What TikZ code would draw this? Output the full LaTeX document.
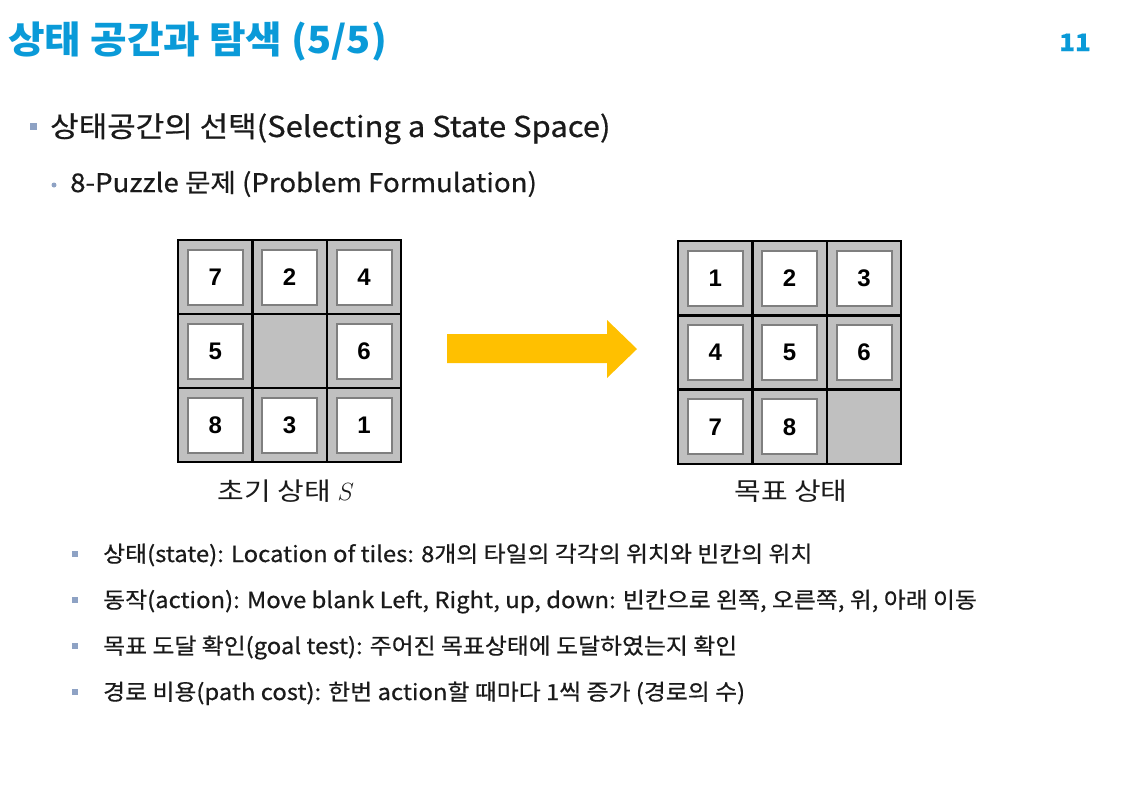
\documentclass[tikz,border=0pt]{standalone}
\usepackage{fontspec}
\setmainfont{Noto Sans CJK KR}[FakeStretch=1.08, FakeBold=0.6]
\newfontfamily\titlefont{Noto Sans CJK KR}[FakeStretch=1.06]
\newfontfamily\capfont{Noto Sans CJK KR}[FakeStretch=1.16]
\newfontfamily\arialfont{Liberation Sans}
\definecolor{titleblue}{HTML}{0A9AD8}
\definecolor{bulletgray}{HTML}{8EA2C4}
\definecolor{cellgray}{HTML}{C0C0C0}
\definecolor{tileedge}{HTML}{7F7F7F}
\definecolor{arrowyellow}{HTML}{FFC000}
\definecolor{textdark}{HTML}{1A1A1A}
\tikzset{
  cellbox/.style={draw=black, fill=cellgray, line width=2.5pt, minimum size=74.4pt, inner sep=0pt},
  tilebox/.style={draw=tileedge, fill=white, line width=2pt, minimum size=55pt, inner sep=0pt, font=\arialfont\bfseries\fontsize{24}{24}\selectfont},
  sqbullet/.style={fill=bulletgray, minimum size=7pt, inner sep=0pt},
  smbullet/.style={fill=bulletgray, minimum size=6pt, inner sep=0pt},
  dotbullet/.style={circle, fill=bulletgray, minimum size=5pt, inner sep=0pt},
  bodytext/.style={anchor=base west, inner sep=0pt, text=textdark},
  caption/.style={anchor=base, inner sep=0pt, text=textdark, font=\capfont\fontsize{25}{28}\selectfont},
}
\begin{document}
\begin{tikzpicture}[x=1pt,y=-1pt]
\useasboundingbox (0,0) rectangle (1131,788);
% title
\node[anchor=base west, inner sep=0pt, text=titleblue, font=\titlefont\bfseries\fontsize{37.5}{42}\selectfont] (title) at (8,53) {상태 공간과 탐색 (5/5)};
\node[anchor=base east, inner sep=0pt, text=titleblue, font=\bfseries\fontsize{24}{28}\selectfont] (pagenum) at (1091,51) {11};
% level 1
\node[sqbullet] (b1) at (33.5,126) {};
\node[bodytext, font=\fontsize{28.7}{32}\selectfont] (l1) at (50,137) {상태공간의 선택(Selecting a State Space)};
\node[dotbullet] (b2) at (54,185) {};
\node[bodytext, font=\fontsize{25.6}{28}\selectfont] (l2) at (70,192) {8-Puzzle 문제 (Problem Formulation)};
% initial puzzle
\foreach \v [count=\i from 0] in {7,2,4,5,0,6,8,3,1} {
  \pgfmathtruncatemacro\cc{mod(\i,3)}
  \pgfmathtruncatemacro\rr{div(\i,3)}
  \node[cellbox] (s\i) at ({178+74.4*\cc+37.2},{240+74*\rr+37}) {};
  \ifnum\v>0 \node[tilebox] (st\i) at (s\i) {\v}; \fi
}
% goal puzzle
\foreach \v [count=\i from 0] in {1,2,3,4,5,6,7,8,0} {
  \pgfmathtruncatemacro\cc{mod(\i,3)}
  \pgfmathtruncatemacro\rr{div(\i,3)}
  \node[cellbox] (g\i) at ({678+74.4*\cc+37.2},{241+74.3*\rr+37.15}) {};
  \ifnum\v>0 \node[tilebox] (gt\i) at (g\i) {\v}; \fi
}
% block arrow
\fill[arrowyellow] (447,334) -- (607,334) -- (607,320) -- (637,349) -- (607,378) -- (607,363) -- (447,363) -- cycle;
% captions
\node[caption] (cap1) at (286,500) {초기 상태 $S$};
\node[caption] (cap2) at (791,500) {목표 상태};
% bullets
\foreach \y/\n in {554/1,600/2,646/3,692/4} {
  \node[smbullet] (sb\n) at (75,\y) {};
}
\node[bodytext, font=\fontsize{22.1}{26}\selectfont] (t1) at (103,562) {상태(state): Location of tiles: 8개의 타일의 각각의 위치와 빈칸의 위치};
\node[bodytext, font=\fontsize{22.1}{26}\selectfont] (t2) at (103,608) {동작(action): Move blank Left, Right, up, down: 빈칸으로 왼쪽, 오른쪽, 위, 아래 이동};
\node[bodytext, font=\fontsize{22.1}{26}\selectfont] (t3) at (103,654) {목표 도달 확인(goal test): 주어진 목표상태에 도달하였는지 확인};
\node[bodytext, font=\fontsize{22.1}{26}\selectfont] (t4) at (103,700) {경로 비용(path cost): 한번 action할 때마다 1씩 증가 (경로의 수)};
\end{tikzpicture}
\end{document}
